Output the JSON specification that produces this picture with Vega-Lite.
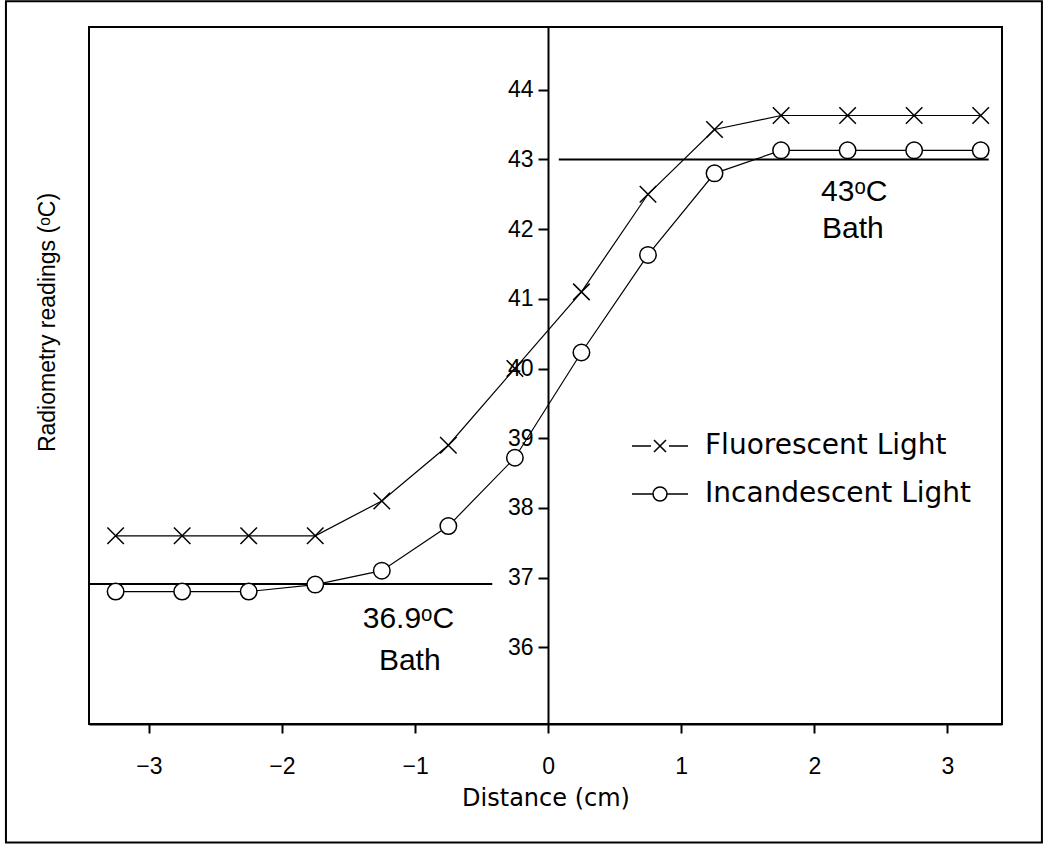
{
  "$schema": "https://vega.github.io/schema/vega-lite/v6.json",
  "width": 913,
  "height": 697,
  "autosize": "none",
  "padding": {"left": 89, "top": 27, "right": 48, "bottom": 127},
  "background": "white",
  "config": {
    "view": {"stroke": "black", "strokeWidth": 2},
    "font": "Liberation Sans",
    "axis": {"grid": false, "domainColor": "black", "tickColor": "black", "labelColor": "black", "titleColor": "black", "titleFontWeight": "normal", "labelFont": "Liberation Sans", "titleFont": "Liberation Sans", "domainWidth": 2, "tickWidth": 2},
    "legend": {"labelFont": "DejaVu Sans", "labelColor": "black"}
  },
  "datasets": {
    "series": [
      {"series": "Fluorescent Light", "x": -3.25, "y": 37.6},
      {"series": "Fluorescent Light", "x": -2.75, "y": 37.6},
      {"series": "Fluorescent Light", "x": -2.25, "y": 37.6},
      {"series": "Fluorescent Light", "x": -1.75, "y": 37.6},
      {"series": "Fluorescent Light", "x": -1.25, "y": 38.1},
      {"series": "Fluorescent Light", "x": -0.75, "y": 38.9},
      {"series": "Fluorescent Light", "x": -0.25, "y": 40.0},
      {"series": "Fluorescent Light", "x": 0.25, "y": 41.1},
      {"series": "Fluorescent Light", "x": 0.75, "y": 42.5},
      {"series": "Fluorescent Light", "x": 1.25, "y": 43.43},
      {"series": "Fluorescent Light", "x": 1.75, "y": 43.63},
      {"series": "Fluorescent Light", "x": 2.25, "y": 43.63},
      {"series": "Fluorescent Light", "x": 2.75, "y": 43.63},
      {"series": "Fluorescent Light", "x": 3.25, "y": 43.63},
      {"series": "Incandescent Light", "x": -3.25, "y": 36.8},
      {"series": "Incandescent Light", "x": -2.75, "y": 36.8},
      {"series": "Incandescent Light", "x": -2.25, "y": 36.8},
      {"series": "Incandescent Light", "x": -1.75, "y": 36.9},
      {"series": "Incandescent Light", "x": -1.25, "y": 37.1},
      {"series": "Incandescent Light", "x": -0.75, "y": 37.74},
      {"series": "Incandescent Light", "x": -0.25, "y": 38.72},
      {"series": "Incandescent Light", "x": 0.25, "y": 40.23},
      {"series": "Incandescent Light", "x": 0.75, "y": 41.63},
      {"series": "Incandescent Light", "x": 1.25, "y": 42.8},
      {"series": "Incandescent Light", "x": 1.75, "y": 43.13},
      {"series": "Incandescent Light", "x": 2.25, "y": 43.13},
      {"series": "Incandescent Light", "x": 2.75, "y": 43.13},
      {"series": "Incandescent Light", "x": 3.25, "y": 43.13}
    ],
    "baths": [
      {"x": 0.08, "x2": 3.31, "y": 43.0},
      {"x": -3.45, "x2": -0.42, "y": 36.91}
    ],
    "notes": [
      {"label": "43ᵒC", "x": 2.3, "y": 42.53},
      {"label": "Bath", "x": 2.29, "y": 42.0},
      {"label": "36.9ᵒC", "x": -1.05, "y": 36.4},
      {"label": "Bath", "x": -1.04, "y": 35.8}
    ]
  },
  "layer": [
    {
      "data": {"name": "series"},
      "mark": {"type": "line", "stroke": "black", "strokeWidth": 1.2},
      "encoding": {
        "x": {"field": "x", "type": "quantitative", "scale": {"domain": [-3.45, 3.41], "nice": false, "zero": false},
          "axis": {"values": [-3, -2, -1, 0, 1, 2, 3], "format": "d", "tickSize": 9, "labelFontSize": 23, "labelPadding": 22, "title": "Distance (cm)", "titleFont": "DejaVu Sans", "titleFontSize": 24, "titlePadding": 8}},
        "y": {"field": "y", "type": "quantitative", "scale": {"domain": [34.9, 44.9], "nice": false, "zero": false},
          "axis": {"values": [36, 37, 38, 39, 40, 41, 42, 43, 44], "format": "d", "offset": -459, "tickSize": 10, "labelFontSize": 23, "labelPadding": 5, "title": "Radiometry readings (ᵒC)", "titleFontSize": 23, "titleX": -501, "titleY": 295, "titleBaseline": "middle"}},
        "detail": {"field": "series", "type": "nominal"}
      }
    },
    {
      "data": {"values": [{}]},
      "mark": {"type": "rect", "fillOpacity": 0, "stroke": "black", "strokeWidth": 2, "clip": false},
      "encoding": {
        "x": {"datum": -4.074, "type": "quantitative"},
        "x2": {"datum": 3.71},
        "y": {"datum": 45.27, "type": "quantitative"},
        "y2": {"datum": 33.2}
      }
    },
    {
      "data": {"name": "baths"},
      "mark": {"type": "rule", "stroke": "black", "strokeWidth": 2},
      "encoding": {
        "x": {"field": "x", "type": "quantitative"},
        "x2": {"field": "x2"},
        "y": {"field": "y", "type": "quantitative"}
      }
    },
    {
      "data": {"name": "series"},
      "mark": {"type": "point", "fill": "white", "stroke": "black", "strokeWidth": 1.5, "opacity": 1, "fillOpacity": 1, "size": 272},
      "encoding": {
        "x": {"field": "x", "type": "quantitative"},
        "y": {"field": "y", "type": "quantitative"},
        "shape": {"field": "series", "type": "nominal", "legend": null,
          "scale": {"domain": ["Fluorescent Light", "Incandescent Light"], "range": ["M-1,-1L1,1M-1,1L1,-1", "circle"]}}
      }
    },
    {
      "data": {"name": "series"},
      "transform": [{"filter": "datum.x > 100"}],
      "mark": {"type": "point", "color": "black", "opacity": 1, "strokeWidth": 1.5},
      "encoding": {
        "x": {"field": "x", "type": "quantitative"},
        "y": {"field": "y", "type": "quantitative"},
        "shape": {"field": "series", "type": "nominal",
          "scale": {"domain": ["Fluorescent Light", "Incandescent Light"], "range": ["M-1.4,0H-0.45M0.45,0H1.4M-0.3,-0.3L0.3,0.3M-0.3,0.3L0.3,-0.3", "M-1.4,0H-0.35M0.35,0H1.4M0.35,0A0.35,0.35 0 1,1 -0.35,0A0.35,0.35 0 1,1 0.35,0"]},
          "legend": {"title": null, "orient": "none", "legendX": 550, "legendY": 398, "padding": 0, "symbolSize": 1600, "labelFontSize": 28, "labelOffset": 24, "rowPadding": 13, "labelLimit": 0, "symbolStrokeWidth": 1.5}}
      }
    },
    {
      "data": {"name": "notes"},
      "mark": {"type": "text", "fontSize": 30, "color": "black", "align": "center", "baseline": "middle", "font": "Liberation Sans"},
      "encoding": {
        "x": {"field": "x", "type": "quantitative"},
        "y": {"field": "y", "type": "quantitative"},
        "text": {"field": "label"}
      }
    }
  ],
  "resolve": {"scale": {"shape": "independent"}}
}
